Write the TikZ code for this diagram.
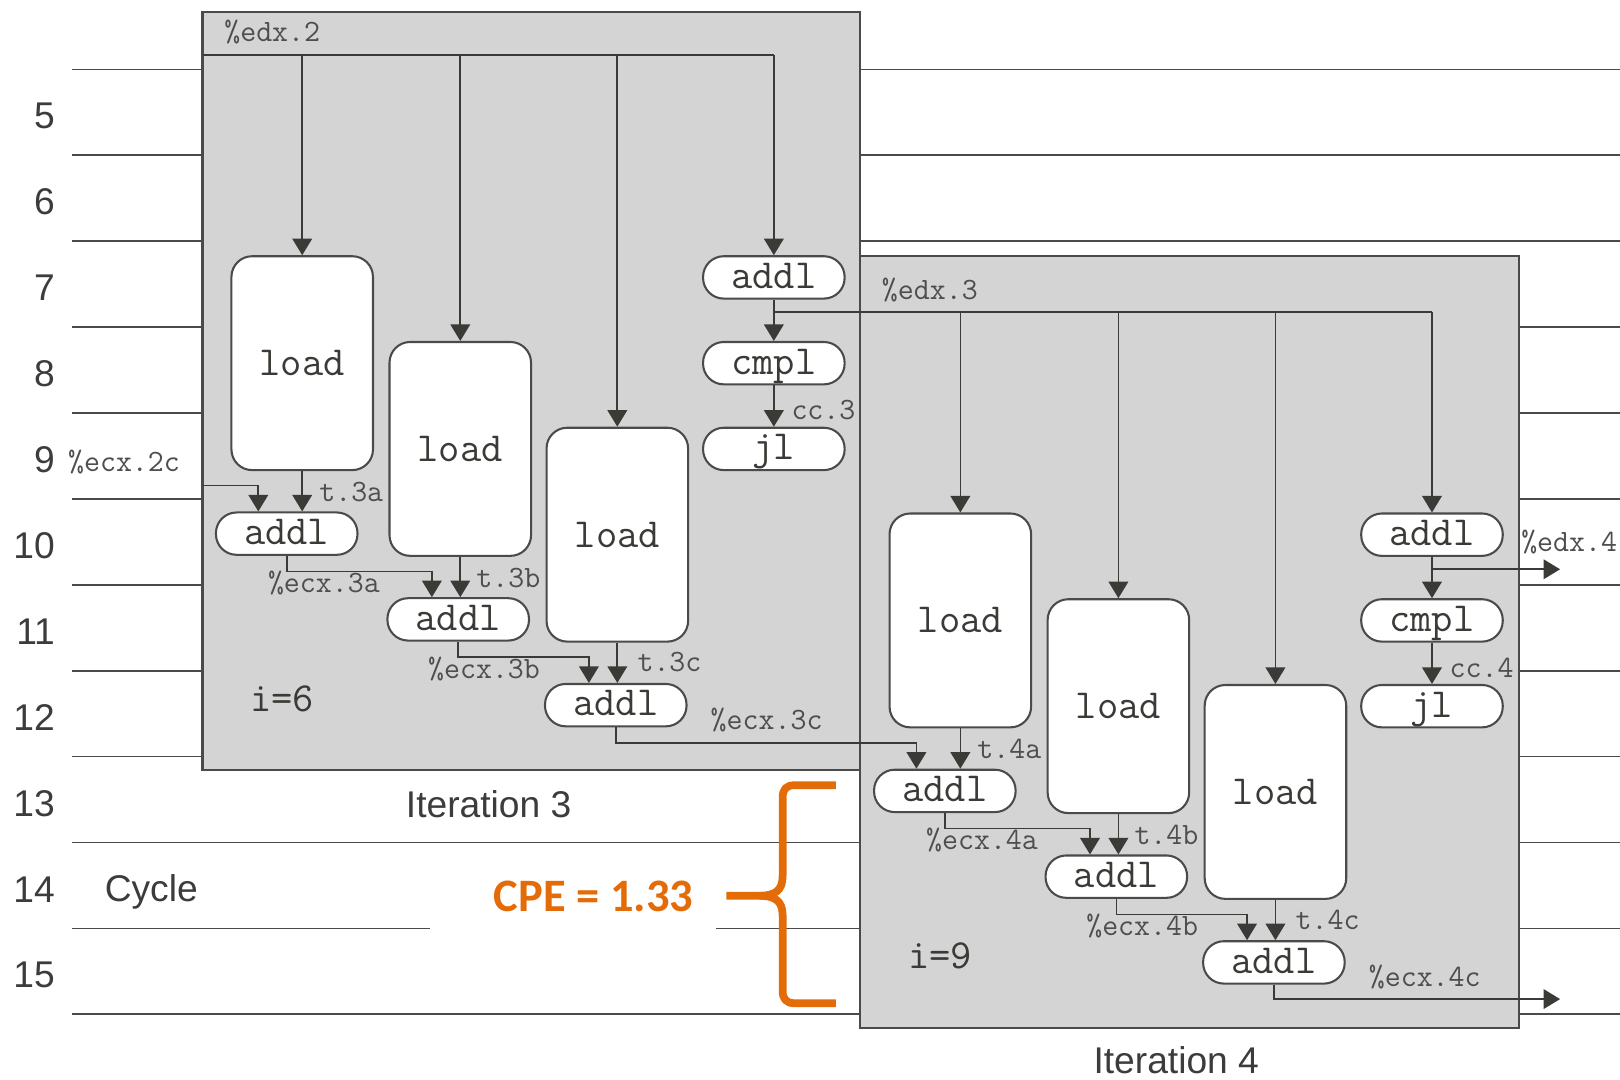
\documentclass[tikz,border=0pt]{standalone}
\usepackage{fontspec}
\setmainfont{Liberation Sans}
\newfontfamily\cpefont{Carlito}
\usetikzlibrary{arrows.meta,calc}

\definecolor{boxgray}{HTML}{D4D4D4}
\definecolor{ink}{HTML}{3A3A36}
\definecolor{rule}{HTML}{4A4A4A}
\definecolor{labelgray}{HTML}{4E4E4E}
\definecolor{numgray}{HTML}{3C3C3C}
\definecolor{cpeorange}{HTML}{E36C09}

\tikzset{
  cyc/.style={draw=rule, line width=0.8pt},
  iterbox/.style={draw=rule, fill=boxgray, line width=1pt},
  wire/.style={draw=ink, line width=0.8pt},
  arr/.style={draw=ink, line width=0.8pt, -{Triangle[length=8pt,width=9.5pt]}},
  loadbox/.style={draw=rule, fill=white, line width=1pt, rounded corners=10pt,
    minimum width=68.5pt, minimum height=103.5pt, inner sep=0pt,
    font=\ttfamily\fontsize{20}{22}\selectfont, text=ink},
  pill/.style={draw=rule, fill=white, line width=1pt, rounded corners=10pt,
    minimum width=68.5pt, minimum height=20.5pt, inner sep=0pt,
    text height=10.5pt, text depth=0pt,
    font=\ttfamily\fontsize{20}{22}\selectfont, text=ink},
  lbl/.style={inner sep=0pt, font=\ttfamily\fontsize{15}{17}\selectfont, text=labelgray},
  bigmono/.style={inner sep=0pt, font=\ttfamily\fontsize{20}{22}\selectfont, text=ink},
  sanslbl/.style={inner sep=0pt, font=\fontsize{18}{20}\selectfont, text=numgray},
  cycnum/.style={sanslbl, anchor=base east},
  brace/.style={draw=cpeorange, line width=3.75pt, line cap=butt, line join=round},
}

% One loop iteration: three loads feeding the addl chain, plus the
% addl/cmpl/jl loop-control column. #1 = iteration number, #2 = value of i.
\newcommand\iterbody[2]{%
  \coordinate (bus#1) at (0,53);
  \node[loadbox] (L#1a) at (292.5,351.5) {load};
  \node[loadbox] (L#1b) at (445.5,434.5) {load};
  \node[loadbox] (L#1c) at (597.5,517.5) {load};
  \node[pill] (E#1) at (749,268.5) {addl};
  \node[pill] (C#1) at (749,351.5) {cmpl};
  \node[pill] (J#1) at (749,434.5) {jl};
  \node[pill] (A#1a) at (277.5,516.5) {addl};
  \node[pill] (A#1b) at (443.5,599.5) {addl};
  \node[pill] (A#1c) at (596,682.5) {addl};
  % pointer register fans out to the loads and the increment
  \draw[arr] (L#1a.north |- bus#1) -- (L#1a.north);
  \draw[arr] (L#1b.north |- bus#1) -- (L#1b.north);
  \draw[arr] (L#1c.north |- bus#1) -- (L#1c.north);
  \draw[arr] (E#1.north |- bus#1) -- (E#1.north);
  \draw[arr] (E#1.south) -- (C#1.north);
  \draw[arr] (C#1.south) -- (J#1.north);
  % loaded values into the accumulator chain
  \draw[arr] (L#1a.south) -- (L#1a.south |- A#1a.north);
  \draw[arr] (L#1b.south) -- (L#1b.south |- A#1b.north);
  \draw[arr] (L#1c.south) -- (L#1c.south |- A#1c.north);
  \draw[arr] (A#1a.south) -- ++(0,15) -| ($(A#1b.north)+(-25.5,0)$);
  \draw[arr] (A#1b.south) -- ++(0,15) -| ($(A#1c.north)+(-26,0)$);
  % labels
  \node[lbl] (t#1a) at (340,476) {t.#1a};
  \node[lbl] (t#1b) at (492,559) {t.#1b};
  \node[lbl] (t#1c) at (648,641) {t.#1c};
  \node[lbl] (e#1a) at (313.5,564) {\%ecx.#1a};
  \node[lbl] (e#1b) at (468.5,647.5) {\%ecx.#1b};
  \node[lbl] (e#1c) at (742,697) {\%ecx.#1c};
  \node[lbl] (cc#1) at (797,397) {cc.#1};
  \node[bigmono] (i#1) at (273,676) {i=#2};
}

\begin{document}
\begin{tikzpicture}[x=0.5pt,y=-0.5pt]
  \fill[white] (0,0) rectangle (1568,1045);
  \useasboundingbox (0,0) rectangle (1568,1045);

  % cycle grid
  \foreach \k in {0,...,11}
    \draw[cyc] (70,{67.1+83.15*\k}) -- (1568,{67.1+83.15*\k});
  \foreach \n [count=\k from 0] in {5,...,15}
    \node[cycnum] (cyc\n) at (53.5,{108.7+83.15*\k+16}) {\n};

  % backdrop for the CPE annotation
  \fill[white] (416,829) rectangle (693,903);

  % iteration frames
  \draw[iterbox] (196,12) rectangle (832,745);
  \draw[iterbox] (832,248) rectangle (1470,995);

  \begin{scope}
    \iterbody{3}{6}
  \end{scope}
  \begin{scope}[shift={(637,249)}]
    \iterbody{4}{9}
  \end{scope}

  % register flow between iterations
  \coordinate (edxin) at (196,53);
  \coordinate (ecxin) at (196,470);
  \coordinate (edxout) at (1510,551);
  \coordinate (ecxout) at (1510,967);
  \draw[wire] (edxin) -- (E3.north |- bus3);
  \draw[wire] (E3.south |- bus4) -- (E4.north |- bus4);
  \draw[arr] (ecxin) -| ($(A3a.north)+(-27.5,0)$);
  \draw[arr] (A3c.south) -- ++(0,15) -| ($(A4a.north)+(-27.5,0)$);
  \draw[arr] (E4.south |- edxout) -- (edxout);
  \draw[arr] (A4c.south) |- (ecxout);

  \node[lbl] (edx2) at (263.5,31.3) {\%edx.2};
  \node[lbl] (edx3) at (900,280.5) {\%edx.3};
  \node[lbl, anchor=west] (edx4) at (1472,525) {\%edx.4};
  \node[lbl] (ecx2c) at (120,447) {\%ecx.2c};

  \node[sanslbl, anchor=base west] (it3) at (392.5,791.5) {Iteration 3};
  \node[sanslbl, anchor=base west] (it4) at (1058,1039.5) {Iteration 4};
  \node[sanslbl, anchor=base west] (cycle) at (101,873) {Cycle};

  % steady-state throughput annotation
  \node[inner sep=0pt, text=cpeorange, font=\cpefont\bfseries\fontsize{22.5}{24}\selectfont]
    (cpe) at (574.5,867.6) {CPE = 1.33};
  \draw[brace] (809,760) -- (769,760) .. controls (761,760) and (757.5,764) .. (757.5,772)
    -- (757.5,848) .. controls (757.5,862) and (750,867) .. (735,867) -- (703,867);
  \draw[brace] (735,867) .. controls (750,867) and (757.5,872) .. (757.5,886)
    -- (757.5,959) .. controls (757.5,967) and (761,971) .. (769,971) -- (809,971);
\end{tikzpicture}
\end{document}
